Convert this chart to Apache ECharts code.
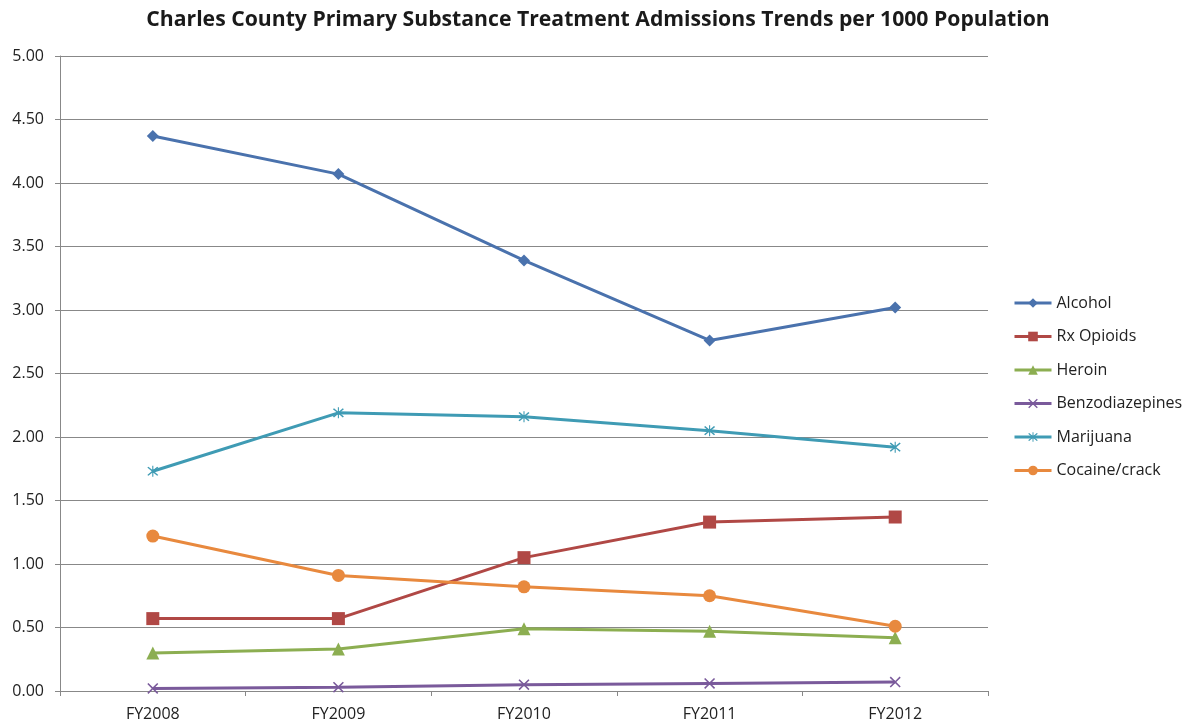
<!DOCTYPE html>
<html><head><meta charset="utf-8">
<script src="https://cdn.jsdelivr.net/npm/echarts@6/dist/echarts.min.js"></script>
<style>html,body{margin:0;padding:0;background:#fff}#c{width:1196px;height:727px}</style>
</head><body><div id="c"></div>
<script>
const categories = ['FY2008','FY2009','FY2010','FY2011','FY2012'];
const alcohol = [4.37, 4.07, 3.39, 2.76, 3.02];
const rxOpioids = [0.57, 0.57, 1.05, 1.33, 1.37];
const heroin = [0.30, 0.33, 0.49, 0.47, 0.42];
const benzodiazepines = [0.02, 0.03, 0.05, 0.06, 0.07];
const marijuana = [1.73, 2.19, 2.16, 2.05, 1.92];
const cocaine = [1.22, 0.91, 0.82, 0.75, 0.51];
const yTicks = [0, 0.5, 1, 1.5, 2, 2.5, 3, 3.5, 4, 4.5, 5];

const xSym = 'path://M0,1L1,0L5,4L9,0L10,1L6,5L10,9L9,10L5,6L1,10L0,9L4,5Z';
const starSym = 'path://M0,1L1,0L5,4L9,0L10,1L6,5L10,9L9,10L5,6L1,10L0,9L4,5Z M4.5,-1L5.5,-1L5.5,11L4.5,11Z';

function mk(name, data, color, symbol, size) {
  return {
    name, type: 'line', data, symbol, symbolSize: size,
    lineStyle: { color, width: 3 },
    itemStyle: { color },
    emphasis: { disabled: true }
  };
}

const chart = echarts.init(document.getElementById('c'));
chart.setOption({
  animation: false,
  title: {
    text: 'Charles County Primary Substance Treatment Admissions Trends per 1000 Population',
    left: 'center', top: 4,
    textStyle: { fontFamily: 'Open Sans', fontWeight: 'bold', fontSize: 21.2, color: '#1a1a1a' }
  },
  grid: { left: 60, right: 208, top: 56, bottom: 36 },
  legend: {
    orient: 'vertical', left: 1008, top: 290, itemGap: 17.5,
    itemWidth: 37, itemHeight: 12,
    lineStyle: { width: 3 },
    textStyle: { fontFamily: 'Open Sans', fontSize: 16, lineHeight: 16, color: '#222' },
    data: ['Alcohol','Rx Opioids','Heroin','Benzodiazepines','Marijuana','Cocaine/crack']
  },
  xAxis: {
    type: 'category', data: categories, boundaryGap: true,
    axisLine: { lineStyle: { color: '#888' } },
    axisTick: { show: true, length: 5, lineStyle: { color: '#888' } },
    axisLabel: { fontFamily: 'Open Sans', fontSize: 16, color: '#222', margin: 15 }
  },
  yAxis: {
    type: 'value', min: 0, max: 5, interval: 0.5,
    axisLine: { show: true, lineStyle: { color: '#888' } },
    axisTick: { show: true, length: 5, lineStyle: { color: '#888' } },
    splitLine: { lineStyle: { color: '#888' } },
    axisLabel: { fontFamily: 'Open Sans', fontSize: 16, color: '#222', margin: 16,
      formatter: v => v.toFixed(2) }
  },
  series: [
    mk('Alcohol', alcohol, '#4A72AD', 'diamond', 12),
    mk('Rx Opioids', rxOpioids, '#B04845', 'rect', 13),
    mk('Heroin', heroin, '#8CAE51', 'triangle', 13),
    mk('Benzodiazepines', benzodiazepines, '#7A5A9B', xSym, 11),
    mk('Marijuana', marijuana, '#3F9BB4', starSym, 11),
    mk('Cocaine/crack', cocaine, '#E8893E', 'circle', 13)
  ]
});
</script></body></html>
